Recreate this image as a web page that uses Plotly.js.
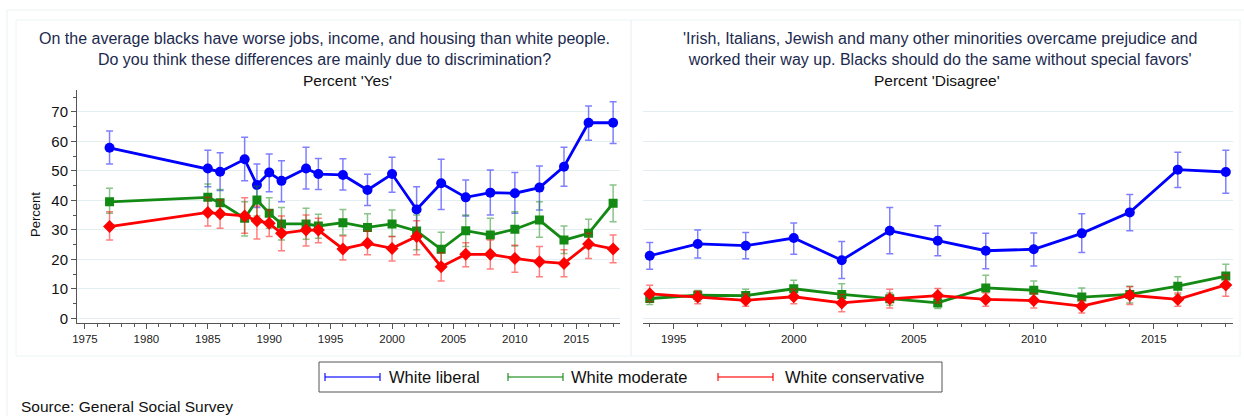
<!DOCTYPE html>
<html>
<head>
<meta charset="utf-8">
<script src="https://cdn.plot.ly/plotly-3.0.1.min.js"></script>
<style>
html,body{margin:0;padding:0;background:#fff;}
#chart{width:1244px;height:416px;}
</style>
</head>
<body>
<div id="chart"></div>
<script>
// ---------- DATA ----------
const seriesNames = ["White liberal", "White moderate", "White conservative"];

// Panel 1: discrimination, percent 'Yes'
const years1 = [1977,1985,1986,1988,1989,1990,1991,1993,1994,1996,1998,2000,2002,2004,2006,2008,2010,2012,2014,2016,2018];
const libYes   = [57.8,50.8,49.7,53.9,45.2,49.4,46.6,50.8,48.9,48.6,43.5,48.9,36.9,45.8,41.0,42.6,42.4,44.3,51.4,66.3,66.3];
const libYesHi = [63.5,57.0,56.1,61.4,52.3,55.7,53.4,58.0,54.2,54.1,48.8,54.6,44.6,53.9,46.9,50.3,49.4,51.6,58.0,72.0,73.4];
const libYesLo = [52.3,44.6,43.3,46.6,37.6,42.9,39.5,43.8,43.7,43.5,38.2,42.7,29.4,36.9,34.7,35.0,35.6,36.7,44.8,60.4,59.3];
const modYes   = [39.5,41.0,39.2,33.9,40.1,35.6,32.0,32.0,31.3,32.4,30.8,32.0,29.6,23.4,29.7,28.2,30.2,33.3,26.5,28.8,39.0];
const modYesHi = [44.1,45.5,43.7,39.5,44.8,40.9,37.6,37.3,35.3,36.9,35.4,36.7,35.0,29.2,35.0,33.9,36.1,39.5,31.3,33.6,45.2];
const modYesLo = [35.6,36.1,34.4,27.9,34.7,30.5,26.5,26.8,27.1,28.2,26.3,27.7,23.2,18.1,24.3,22.6,24.5,27.5,22.0,23.7,32.7];
const conYes   = [31.1,35.9,35.4,34.7,33.1,32.2,28.8,29.9,29.9,23.5,25.4,23.7,27.7,17.5,21.7,21.7,20.3,19.2,18.6,25.2,23.5];
const conYesHi = [36.1,41.0,40.1,40.9,38.1,36.7,34.7,35.0,33.9,27.9,29.6,27.7,33.1,22.2,25.6,26.5,24.8,24.3,23.2,28.8,28.2];
const conYesLo = [26.5,31.3,30.5,28.8,26.9,27.7,22.9,24.5,25.6,19.8,21.5,19.4,21.5,12.6,17.5,16.7,15.6,14.1,14.1,20.3,18.8];

// Panel 2: "no special favors", percent 'Disagree'
const years2 = [1994,1996,1998,2000,2002,2004,2006,2008,2010,2012,2014,2016,2018];
const libDis   = [21.2,25.2,24.6,27.2,19.7,29.7,26.3,22.9,23.4,28.8,35.9,50.4,49.6];
const libDisHi = [25.7,29.9,29.1,32.3,26.0,37.6,31.4,28.8,28.9,35.4,42.0,56.3,57.0];
const libDisLo = [16.6,20.4,20.2,21.7,13.5,21.9,21.2,16.8,17.7,22.3,29.7,44.3,42.4];
const modDis   = [6.7,7.8,7.7,10.0,8.1,6.6,5.2,10.3,9.5,7.2,8.1,10.9,14.3];
const modDisHi = [8.6,9.4,9.8,12.9,11.7,8.6,7.2,14.6,12.6,10.3,10.9,14.1,18.3];
const modDisLo = [4.7,5.8,5.8,7.5,4.7,4.4,3.3,6.4,6.4,4.1,5.2,8.1,10.3];
const conDis   = [8.3,7.2,6.1,7.3,5.2,6.6,7.7,6.4,6.0,4.1,7.8,6.4,11.3];
const conDisHi = [11.2,9.2,8.3,9.8,8.1,9.8,10.1,8.6,8.4,6.0,10.7,8.6,14.7];
const conDisLo = [5.6,4.9,4.1,4.9,2.2,3.5,5.2,4.1,3.5,1.8,4.7,4.1,7.5];

const yTicks = [0,10,20,30,40,50,60,70];
const xTicks1 = [1975,1980,1985,1990,1995,2000,2005,2010,2015];
const xTicks2 = [1995,2000,2005,2010,2015];

// ---------- STYLE ----------
const W = 1244, H = 416;
const px = x => x / W;
const py = y => 1 - y / H;
const FONT = '"Liberation Sans", Arial, Helvetica, sans-serif';
const colors = ['#0000ff', '#138a13', '#ff0000'];
const errColors = ['rgba(0,0,255,0.5)', 'rgba(19,138,19,0.5)', 'rgba(255,0,0,0.5)'];
const symbols = ['circle', 'square', 'diamond'];
const msize = [10, 9, 10];
const gridColor = '#e3eef1';
const frameColor = '#e8f1f3';

function trace(x, y, hi, lo, i, xa, ya) {
  return {
    x: x, y: y, xaxis: xa, yaxis: ya,
    type: 'scatter', mode: 'lines+markers', name: seriesNames[i], showlegend: false,
    line: {color: colors[i], width: 2.8},
    marker: {color: colors[i], symbol: symbols[i], size: msize[i]},
    error_y: {
      type: 'data', symmetric: false,
      array: hi.map((h, k) => h - y[k]),
      arrayminus: lo.map((l, k) => y[k] - l),
      color: errColors[i], thickness: 1.5, width: 3.5
    },
    hoverinfo: 'skip'
  };
}

const data = [
  trace(years1, libYes, libYesHi, libYesLo, 0, 'x', 'y'),
  trace(years1, modYes, modYesHi, modYesLo, 1, 'x', 'y'),
  trace(years1, conYes, conYesHi, conYesLo, 2, 'x', 'y'),
  trace(years2, libDis, libDisHi, libDisLo, 0, 'x2', 'y2'),
  trace(years2, modDis, modDisHi, modDisLo, 1, 'x2', 'y2'),
  trace(years2, conDis, conDisHi, conDisLo, 2, 'x2', 'y2')
];

const yDomain = [py(322.7), py(90)];
const yRange = [-1.5, 77.4];
const axisColor = '#555';

const xBase = {
  showline: true, linecolor: axisColor, linewidth: 1,
  ticks: 'outside', ticklen: 5, tickcolor: axisColor, tickwidth: 1,
  showgrid: false, zeroline: false,
  tickfont: {family: FONT, size: 11.5, color: '#222'},
  minor: {dtick: 1, ticks: 'outside', ticklen: 3, tickcolor: axisColor, showgrid: false},
  tickmode: 'array', fixedrange: true
};

const layout = {
  width: W, height: H,
  margin: {l: 0, r: 0, t: 0, b: 0},
  paper_bgcolor: '#fff', plot_bgcolor: '#fff',
  showlegend: false,
  font: {family: FONT},
  xaxis: Object.assign({}, xBase, {
    domain: [px(77), px(620)], range: [1974.35, 2018.56],
    tickvals: xTicks1, ticktext: xTicks1.map(String), anchor: 'y'
  }),
  xaxis2: Object.assign({}, xBase, {
    domain: [px(643), px(1233)], range: [1993.72, 2018.3],
    tickvals: xTicks2, ticktext: xTicks2.map(String), anchor: 'y2'
  }),
  yaxis: {
    domain: yDomain, range: yRange, anchor: 'x',
    showline: true, linecolor: axisColor, linewidth: 1,
    ticks: 'outside', ticklen: 5, tickcolor: axisColor,
    tickmode: 'array', tickvals: yTicks, ticktext: yTicks.map(String),
    tickfont: {family: FONT, size: 15, color: '#111'},
    showgrid: true, gridcolor: gridColor, gridwidth: 1, zeroline: false,
    minor: {dtick: 5, ticks: 'outside', ticklen: 3, tickcolor: axisColor, showgrid: false},
    fixedrange: true
  },
  yaxis2: {
    domain: yDomain, range: yRange, anchor: 'x2',
    showline: false, ticks: '', showticklabels: false,
    tickmode: 'array', tickvals: yTicks,
    showgrid: true, gridcolor: gridColor, gridwidth: 1, zeroline: false,
    fixedrange: true
  },
  shapes: [],
  annotations: []
};

// frames
layout.shapes.push(
  {type: 'rect', xref: 'paper', yref: 'paper', x0: px(7), x1: px(1250), y0: py(430), y1: py(10), line: {color: frameColor, width: 1}, layer: 'below'},
  {type: 'rect', xref: 'paper', yref: 'paper', x0: px(16), x1: px(631), y0: py(356), y1: py(20), line: {color: '#eef4f5', width: 1}, layer: 'below'},
  {type: 'rect', xref: 'paper', yref: 'paper', x0: px(631), x1: px(1240), y0: py(356), y1: py(20), line: {color: '#eef4f5', width: 1}, layer: 'below'}
);

// titles
const titleColor = '#1c2a4e';
function ann(text, x, y, size, color, extra) {
  layout.annotations.push(Object.assign({
    text: text, xref: 'paper', yref: 'paper', x: px(x), y: py(y),
    xanchor: 'center', yanchor: 'middle', showarrow: false, borderpad: 0,
    font: {family: FONT, size: size, color: color}
  }, extra || {}));
}
ann('On the average blacks have worse jobs, income, and housing than white people.<br>Do you think these differences are mainly due to discrimination?', 324, 49.5, 16, titleColor);
ann("Percent 'Yes'", 347, 80.5, 15.5, '#111');
ann("'Irish, Italians, Jewish and many other minorities overcame prejudice and<br>worked their way up. Blacks should do the same without special favors'", 940, 49.5, 16, titleColor);
ann("Percent 'Disagree'", 937, 80.5, 15.5, '#111');
ann('Percent', 35, 215, 13, '#111', {textangle: -90});
ann('Source: General Social Survey', 20, 406, 15.5, '#111', {xanchor: 'left'});

// custom legend
layout.shapes.push({type: 'rect', xref: 'paper', yref: 'paper', x0: px(319), x1: px(942), y0: py(392), y1: py(362), line: {color: '#555', width: 1}, fillcolor: '#fff'});
const legLineX = [325, 508, 718];
const legTextX = [388, 570, 784];
const legY = 377;
for (let i = 0; i < 3; i++) {
  const c = colors[i];
  const a = legLineX[i], b = legLineX[i] + 55;
  layout.shapes.push(
    {type: 'line', xref: 'paper', yref: 'paper', x0: px(a), x1: px(b), y0: py(legY), y1: py(legY), line: {color: c, width: 1.5}, opacity: 0.75},
    {type: 'line', xref: 'paper', yref: 'paper', x0: px(a), x1: px(a), y0: py(legY - 4), y1: py(legY + 4), line: {color: c, width: 1.5}, opacity: 0.75},
    {type: 'line', xref: 'paper', yref: 'paper', x0: px(b), x1: px(b), y0: py(legY - 4), y1: py(legY + 4), line: {color: c, width: 1.5}, opacity: 0.75}
  );
  ann(seriesNames[i], legTextX[i], legY, 16.5, '#111', {xanchor: 'left'});
}

Plotly.newPlot('chart', data, layout, {displayModeBar: false, staticPlot: true});
</script>
</body>
</html>
